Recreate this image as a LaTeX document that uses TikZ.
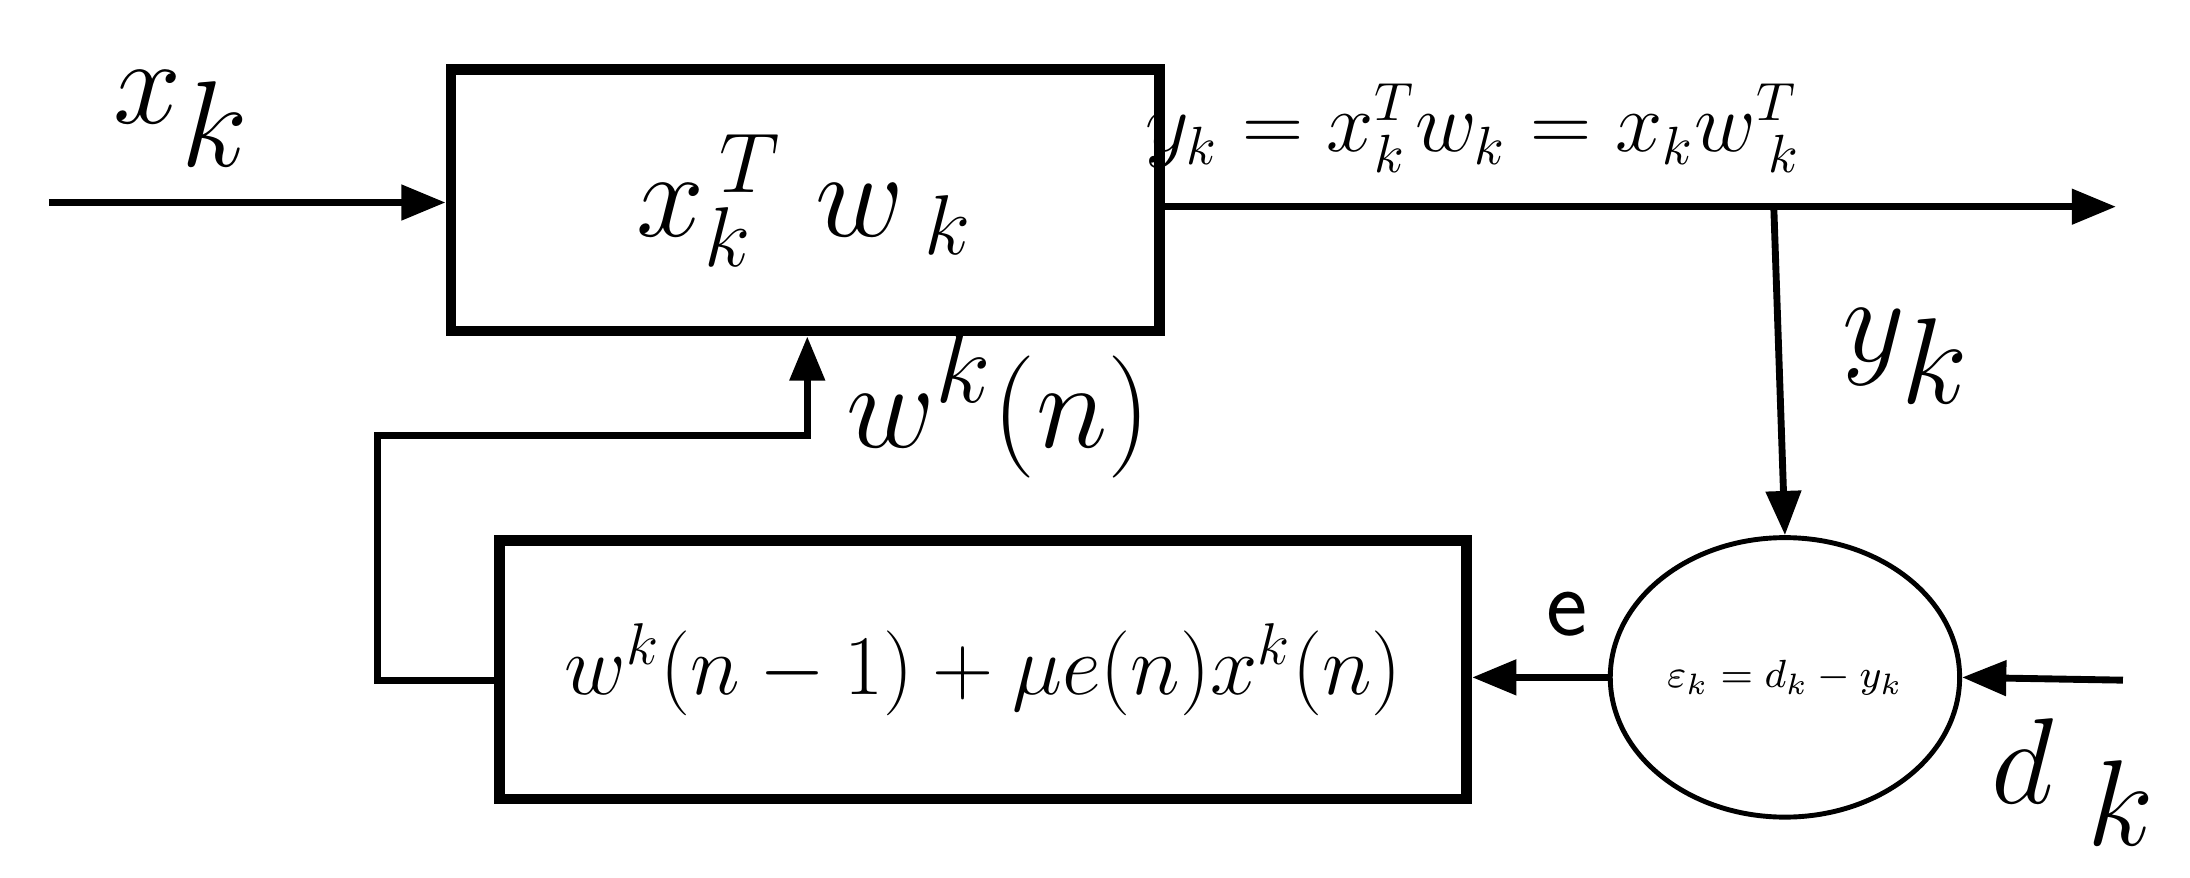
\documentclass[tikz,border=0pt]{standalone}
\usetikzlibrary{arrows.meta,shapes.geometric}
\begin{document}
\begin{tikzpicture}[x=0.01cm,y=-0.01cm,
  blk/.style={draw,line width=2.2pt,inner sep=0pt},
  ln/.style={line width=1.4pt},
  arr/.style={ln,-{Triangle[length=9pt,width=7pt]}}]
\useasboundingbox (0,0) rectangle (1568,628);
\node[blk,minimum width=5.07cm,minimum height=1.87cm] (b1) at (576.5,143.5) {\fontsize{24}{28}\selectfont$x_k^{\,T}\; w_{\;k}$};
\node[blk,minimum width=6.92cm,minimum height=1.85cm] (b2) at (704,479.5) {\fontsize{17}{20}\selectfont$w^k(n-1)+\mu e(n)x^k(n)$};
\node[draw,line width=1pt,ellipse,minimum width=2.5cm,minimum height=2cm,inner sep=0pt] (c) at (1278,485) {\fontsize{8}{9}\selectfont$\varepsilon_k=d_k-y_k$};
\coordinate (in) at (35,145);
\coordinate (out) at (1515,148);
\coordinate (br) at (1270,148);
\coordinate (d) at (1520,487);
\coordinate (f1) at (270,487);
\coordinate (f2) at (270,312);
\coordinate (f3) at (578,312);
\draw[arr] (in) -- (in -| b1.west);
\draw[arr] (b1.east |- out) -- (out);
\draw[arr] (br) -- (c.north);
\draw[arr] (d) -- (c.east);
\draw[arr] (c.west) -- (b2.east |- c.west);
\draw[arr] (b2.west |- f1) -- (f1) -- (f2) -- (f3) -- (b1.south -| f3);
\node (lx) at (130,85) {\fontsize{36}{40}\selectfont$x_{k}$};
\node (ly) at (1055,92) {\fontsize{16}{19}\selectfont$y_k=x_k^Tw_k=x_kw^T_{\;k}$};
\node (lyk) at (1365,255) {\fontsize{44}{48}\selectfont$y_k$};
\node (lw) at (715,290) {\fontsize{30}{34}\selectfont$w^k(n)$};
\node (le) at (1122,440) {\fontsize{20}{24}\selectfont\sffamily e};
\node (ld) at (1485,560) {\fontsize{36}{40}\selectfont$d_{\;k}$};
\end{tikzpicture}
\end{document}
